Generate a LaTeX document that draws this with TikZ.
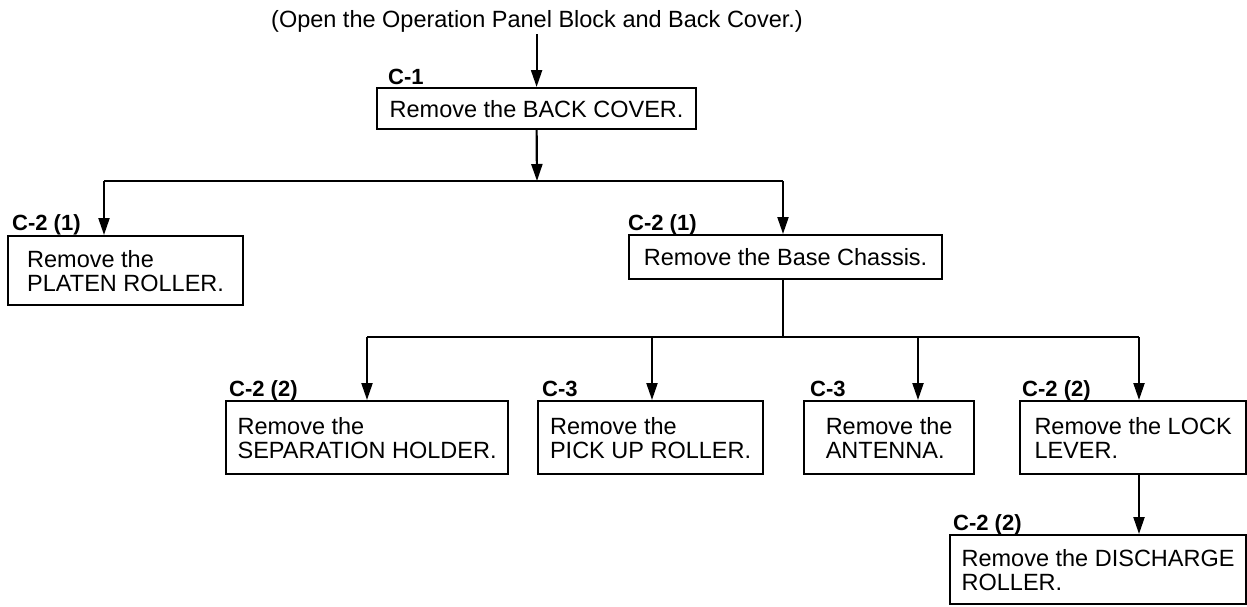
\documentclass[tikz,border=0pt]{standalone}
\usepackage{fontspec}
\setmainfont{Liberation Sans}
\usetikzlibrary{arrows.meta}
\begin{document}
\begin{tikzpicture}[x=1pt,y=-1pt,
  box/.style={draw,line width=2.2pt,inner sep=0pt,align=left,anchor=north west,
    font=\fontsize{23.5}{24}\selectfont},
  lbl/.style={anchor=base west,inner sep=0pt,font=\fontsize{22}{22}\selectfont\bfseries},
  ln/.style={line width=2.2pt},
  arr/.style={line width=2.2pt,-{Triangle[length=17pt,width=11pt]}}]
\useasboundingbox (0,0) rectangle (1247,606);
% title
\node[inner sep=0pt,anchor=base,font=\fontsize{23.5}{24}\selectfont] (intro) at (537,27) {(Open the Operation Panel Block and Back Cover.)};
% boxes
\node[box,minimum width=319pt,minimum height=41pt] (c1) at (376,87) {Remove the BACK COVER.};
\node[box,minimum width=235pt,minimum height=69pt] (pl) at (7,235) {Remove the\\PLATEN ROLLER.};
\node[box,minimum width=313pt,minimum height=44pt] (bc) at (628,234) {Remove the Base Chassis.};
\node[box,minimum width=282pt,minimum height=73pt] (sp) at (225,400) {Remove the\\SEPARATION HOLDER.};
\node[box,minimum width=225pt,minimum height=73pt] (pu) at (537,400) {Remove the\\PICK UP ROLLER.};
\node[box,minimum width=170pt,minimum height=73pt] (an) at (803,400) {Remove the\\ANTENNA.};
\node[box,minimum width=226pt,minimum height=73pt] (lk) at (1019,400) {Remove the LOCK\\LEVER.};
\node[box,minimum width=296pt,minimum height=69pt] (dc) at (949,534) {Remove the DISCHARGE\\ROLLER.};
% labels
\node[lbl] (l1) at (388,84) {C-1};
\node[lbl] (l2) at (12,230) {C-2 (1)};
\node[lbl] (l3) at (628,230) {C-2 (1)};
\node[lbl] (l4) at (229,396) {C-2 (2)};
\node[lbl] (l5) at (542,396) {C-3};
\node[lbl] (l6) at (810,396) {C-3};
\node[lbl] (l7) at (1022,396) {C-2 (2)};
\node[lbl] (l8) at (953,530) {C-2 (2)};
% connectors
\coordinate (j0) at (537,181);
\coordinate (b1l) at (104,181);
\coordinate (b1r) at (783,181);
\coordinate (b2l) at (367,337);
\coordinate (b2a) at (652,337);
\coordinate (b2b) at (918,337);
\coordinate (b2r) at (1139,337);
\draw[arr] (intro.south -| c1.north) ++(0,2) -- (c1.north);
\draw[arr] (c1.south) -- (j0);
\draw[ln] (b1l) -- (b1r);
\draw[arr] (b1l) -- (b1l |- pl.north);
\draw[arr] (b1r) -- (b1r |- bc.north);
\draw[ln] (b1r |- bc.south) -- (b1r |- b2l);
\draw[ln] (b2l) -- (b2r);
\draw[arr] (b2l) -- (b2l |- sp.north);
\draw[arr] (b2a) -- (b2a |- pu.north);
\draw[arr] (b2b) -- (b2b |- an.north);
\draw[arr] (b2r) -- (b2r |- lk.north);
\draw[arr] (b2r |- lk.south) -- (b2r |- dc.north);
\end{tikzpicture}
\end{document}
